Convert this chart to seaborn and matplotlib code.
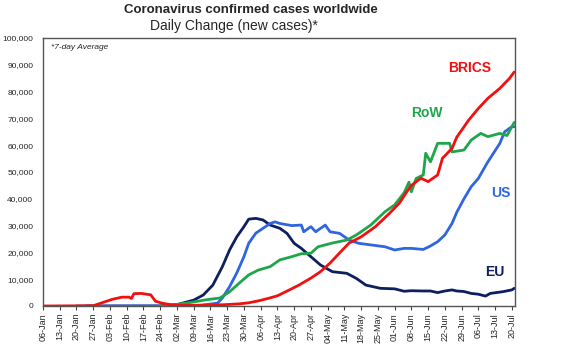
import matplotlib
matplotlib.use("Agg")
import matplotlib.pyplot as plt
import pandas as pd
import seaborn as sns

# ---------------- data (7-day average of daily new cases) ----------------
brics_dates = ["01-06", "01-27", "02-01", "02-04", "02-08", "02-11", "02-12", "02-13",
               "02-16", "02-19", "02-20", "02-22", "02-25", "02-29", "03-05", "03-15",
               "03-22", "03-28", "04-01", "04-05", "04-09", "04-13", "04-18", "04-22",
               "04-27", "05-01", "05-05", "05-09", "05-13", "05-18", "05-24", "05-30",
               "06-03", "06-06", "06-08", "06-12", "06-15", "06-19", "06-21", "06-25",
               "06-27", "07-02", "07-06", "07-10", "07-15", "07-19", "07-21"]
brics_vals = [0, 100, 1600, 2500, 3300, 3300, 2800, 4600,
              4700, 4300, 4200, 1800, 1000, 400, 200, 300,
              500, 800, 1200, 1900, 2800, 3800, 6000, 7800,
              10400, 12800, 16000, 19800, 23500, 25800, 29600, 34700,
              38400, 42500, 45000, 47700, 46400, 48900, 55100, 58800,
              63000, 69400, 73700, 77500, 81200, 84900, 87300]

row_dates = ["02-24", "03-02", "03-09", "03-14", "03-20", "03-24", "03-28", "04-01",
             "04-05", "04-10", "04-14", "04-19", "04-23", "04-27", "04-30", "05-06",
             "05-12", "05-16", "05-22", "05-28", "06-01", "06-05", "06-07", "06-08",
             "06-10", "06-13", "06-14", "06-16", "06-19", "06-24", "06-25", "06-30",
             "07-03", "07-07", "07-10", "07-15", "07-18", "07-21"]
row_vals = [100, 600, 1500, 2300, 3000, 5300, 8500, 11600,
            13400, 14700, 17200, 18400, 19500, 19700, 22100, 23500,
            24600, 26500, 30200, 35200, 37700, 42300, 46200, 42600,
            47600, 48900, 57000, 53800, 60700, 60700, 57500, 58200,
            61900, 64400, 63200, 64400, 63600, 68500]

us_dates = ["01-20", "03-02", "03-12", "03-16", "03-19", "03-21", "03-24", "03-27",
            "03-30", "04-01", "04-04", "04-07", "04-10", "04-12", "04-14", "04-19",
            "04-23", "04-24", "04-27", "04-29", "05-03", "05-05", "05-09", "05-13",
            "05-17", "05-22", "05-28", "06-01", "06-05", "06-08", "06-13", "06-16",
            "06-19", "06-22", "06-25", "06-27", "06-30", "07-03", "07-06", "07-10",
            "07-15", "07-17", "07-20", "07-21"]
us_vals = [0, 50, 300, 700, 1100, 3000, 7200, 12300,
           18400, 23400, 27200, 29000, 30800, 31400, 30800, 30000,
           30200, 27700, 29600, 27700, 30200, 27700, 27100, 24600,
           23400, 22800, 22100, 20900, 21500, 21500, 21100, 22400,
           24000, 26500, 30800, 35000, 40000, 44500, 47600, 53800,
           60700, 65000, 66900, 66900]

eu_dates = ["01-24", "02-24", "03-02", "03-09", "03-13", "03-17", "03-21", "03-24",
            "03-27", "03-30", "04-01", "04-04", "04-07", "04-10", "04-14", "04-17",
            "04-20", "04-23", "04-27", "05-01", "05-06", "05-12", "05-16", "05-20",
            "05-26", "06-01", "06-05", "06-08", "06-13", "06-16", "06-19", "06-22",
            "06-25", "06-27", "06-30", "07-03", "07-06", "07-09", "07-11", "07-16",
            "07-20", "07-21"]
eu_vals = [0, 0, 500, 2200, 4100, 7800, 14700, 20900,
           25800, 29600, 32400, 32700, 32100, 30200, 29000, 27100,
           23400, 21500, 18400, 15300, 12800, 12200, 10300, 7800,
           6600, 6400, 5500, 5700, 5600, 5600, 5000, 5600,
           6000, 5600, 5400, 4700, 4400, 3700, 4700, 5300,
           6000, 6600]

series_names = ["EU", "US", "RoW", "BRICS"]
series_colors = ["#0d1f5f", "#2f66e0", "#1fa64a", "#f01010"]

tick_labels = ["06-Jan", "13-Jan", "20-Jan", "27-Jan", "03-Feb", "10-Feb", "17-Feb",
               "24-Feb", "02-Mar", "09-Mar", "16-Mar", "23-Mar", "30-Mar", "06-Apr",
               "13-Apr", "20-Apr", "27-Apr", "04-May", "11-May", "18-May", "25-May",
               "01-Jun", "08-Jun", "15-Jun", "22-Jun", "29-Jun", "06-Jul", "13-Jul",
               "20-Jul"]
y_ticks = [0, 10000, 20000, 30000, 40000, 50000, 60000, 70000, 80000, 90000, 100000]

# ---------------- build table ----------------
frames = []
for name, d, v in [("BRICS", brics_dates, brics_vals), ("RoW", row_dates, row_vals),
                   ("US", us_dates, us_vals), ("EU", eu_dates, eu_vals)]:
    frames.append(pd.DataFrame({"date": pd.to_datetime(["2020-" + s for s in d]),
                                "cases": v, "region": name}))
df = pd.concat(frames, ignore_index=True)

# ---------------- plot ----------------
sns.set_style("white")
plt.rcParams["font.family"] = ["Liberation Sans", "DejaVu Sans"]

fig = plt.figure(figsize=(5.7, 3.48), dpi=100)
ax = fig.add_axes([43 / 570, 1 - 306 / 348, (515 - 43) / 570, (306 - 38) / 348])

palette = dict(zip(series_names, series_colors))
for name in series_names:
    sub = df[df["region"] == name]
    sns.lineplot(data=sub, x="date", y="cases", color=palette[name], linewidth=2.0,
                 ax=ax, legend=False, estimator=None)

tick_dates = pd.date_range("2020-01-06", periods=len(tick_labels), freq="7D")
ax.set_xticks(tick_dates)
ax.set_xticklabels(tick_labels, rotation=90, fontsize=6.5)
ax.set_xlim(pd.Timestamp("2020-01-06"), pd.Timestamp("2020-07-21 08:00"))
ax.set_ylim(0, 100000)
ax.set_yticks(y_ticks)
ax.set_yticklabels([f"{t:,}" for t in y_ticks], fontsize=6)
ax.set_xlabel("")
ax.set_ylabel("")
ax.tick_params(axis="x", length=3, width=0.8, pad=2, color="#444444", bottom=True)
ax.tick_params(axis="y", length=0, pad=7)
for s in ax.spines.values():
    s.set_color("#555555")
    s.set_linewidth(1.0)

# labels
ax.text(0.018, 0.965, "*7-day Average", transform=ax.transAxes, fontsize=6,
        style="italic", ha="left", va="center")
lab = dict(fontsize=10, fontweight="bold", ha="center", va="center")
def px(x, y):
    return ((x - 43) / (515 - 43), (306 - y) / (306 - 38))
ax.text(*px(470, 68), "BRICS", color=series_colors[3], transform=ax.transAxes, **lab)
ax.text(*px(427, 113), "RoW", color=series_colors[2], transform=ax.transAxes, **lab)
ax.text(*px(501, 193), "US", color=series_colors[1], transform=ax.transAxes, **lab)
ax.text(*px(495, 272), "EU", color=series_colors[0], transform=ax.transAxes, **lab)

fig.text(251 / 570, 1 - 10 / 348, "Coronavirus confirmed cases worldwide",
         fontsize=9.5, fontweight="bold", ha="center", va="center")
fig.text(234 / 570, 1 - 26 / 348, "Daily Change (new cases)*",
         fontsize=10, ha="center", va="center")

fig.savefig("out.png", dpi=100, facecolor="white")
